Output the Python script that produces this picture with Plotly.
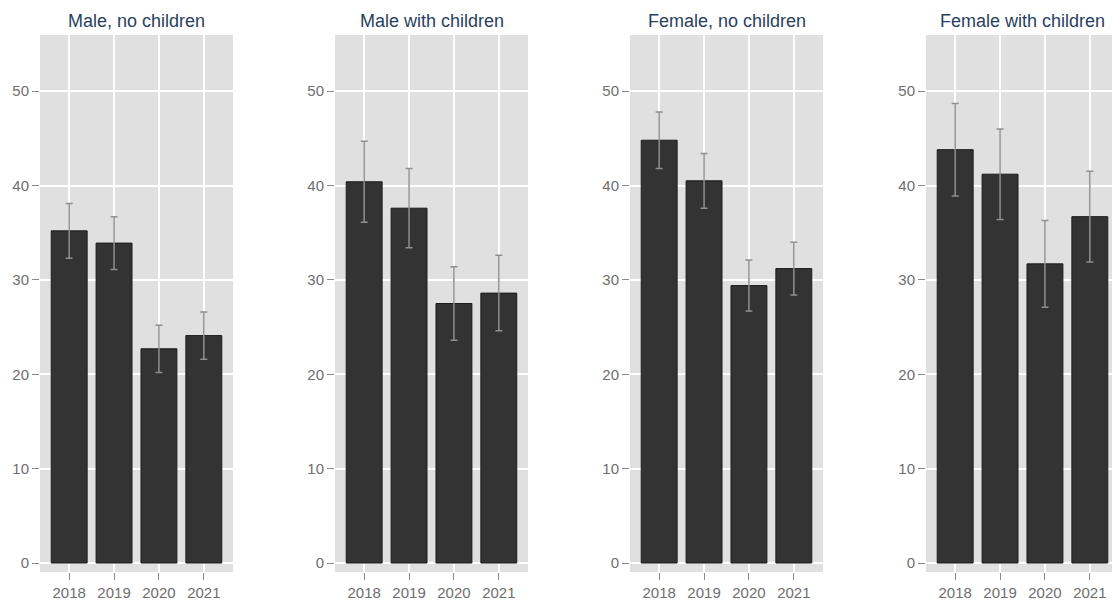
import plotly.graph_objects as go

# Survey share (%) by year, with 95% confidence half-widths
years = ["2018", "2019", "2020", "2021"]
panel_titles = ["Male, no children", "Male with children",
                "Female, no children", "Female with children"]

male_no_children = [35.2, 33.9, 22.7, 24.1]
male_no_children_err = [2.9, 2.8, 2.5, 2.5]

male_with_children = [40.4, 37.6, 27.5, 28.6]
male_with_children_err = [4.3, 4.2, 3.9, 4.0]

female_no_children = [44.8, 40.5, 29.4, 31.2]
female_no_children_err = [3.0, 2.9, 2.7, 2.8]

female_with_children = [43.8, 41.2, 31.7, 36.7]
female_with_children_err = [4.9, 4.8, 4.6, 4.8]

y_ticks = [0, 10, 20, 30, 40, 50]

series = [
    (male_no_children, male_no_children_err),
    (male_with_children, male_with_children_err),
    (female_no_children, female_no_children_err),
    (female_with_children, female_with_children_err),
]

W, H = 1112, 605
# panel pixel extents (left, right); the last panel runs off the page edge
panel_px = [(40, 233), (335, 528), (630, 823), (926, 1119)]
top_px, bottom_px = 35, 572
cat_left, cat_right = -0.65, 3.65

tick_font = dict(family="Liberation Sans, Arial", size=15, color="#6e6e6e")

fig = go.Figure()
layout_axes = {}
annotations = []

for i, ((vals, errs), title) in enumerate(zip(series, panel_titles)):
    n = i + 1
    xa = "x" if n == 1 else f"x{n}"
    ya = "y" if n == 1 else f"y{n}"
    fig.add_trace(go.Bar(
        x=years, y=vals, xaxis=xa, yaxis=ya,
        width=0.8,
        marker=dict(color="#333333", line=dict(color="#1c1c1c", width=1)),
        error_y=dict(type="data", array=errs, visible=True,
                     color="#8f8f8f", thickness=1.5, width=3.5),
        showlegend=False,
    ))

    left, right = panel_px[i]
    vis_right = min(right, W)
    px_per_cat = (right - left) / (cat_right - cat_left)
    range_right = cat_left + (vis_right - left) / px_per_cat

    xkey = "xaxis" if n == 1 else f"xaxis{n}"
    ykey = "yaxis" if n == 1 else f"yaxis{n}"
    layout_axes[xkey] = dict(
        domain=[left / W, vis_right / W],
        anchor=ya,
        type="category",
        range=[cat_left, range_right],
        showgrid=True, gridcolor="white", gridwidth=1.5,
        ticks="outside", ticklen=7, tickwidth=1, tickcolor="#8a8a8a",
        tickfont=tick_font,
        showline=False, zeroline=False,
        fixedrange=True,
    )
    layout_axes[ykey] = dict(
        domain=[1 - bottom_px / H, 1 - top_px / H],
        anchor=xa,
        range=[-0.95, 55.95],
        tickvals=y_ticks,
        showgrid=True, gridcolor="white", gridwidth=1.5,
        ticks="outside", ticklen=7, tickwidth=1, tickcolor="#8a8a8a",
        tickfont=tick_font,
        showline=False, zeroline=False,
        fixedrange=True,
    )
    annotations.append(dict(
        text=title, xref="paper", yref="paper",
        x=((left + right) / 2) / W, y=1 - 21 / H,
        xanchor="center", yanchor="middle", showarrow=False,
        font=dict(family="Liberation Sans, Arial", size=18, color="#2a3f5f"),
    ))

# each panel gets its own grey plotting background
shapes = []
for i, (left, right) in enumerate(panel_px):
    shapes.append(dict(
        type="rect", xref="paper", yref="paper", layer="below",
        x0=left / W, x1=min(right, W) / W,
        y0=1 - bottom_px / H, y1=1 - top_px / H,
        fillcolor="#e0e0e0", line=dict(width=0),
    ))

fig.update_layout(
    width=W, height=H,
    margin=dict(l=0, r=0, t=0, b=0),
    paper_bgcolor="white", plot_bgcolor="#e0e0e0",
    bargap=0.2,
    annotations=annotations,
    shapes=shapes,
    font=dict(family="Liberation Sans, Arial"),
    **layout_axes,
)

fig.write_html("out.html", config={"displayModeBar": False})
